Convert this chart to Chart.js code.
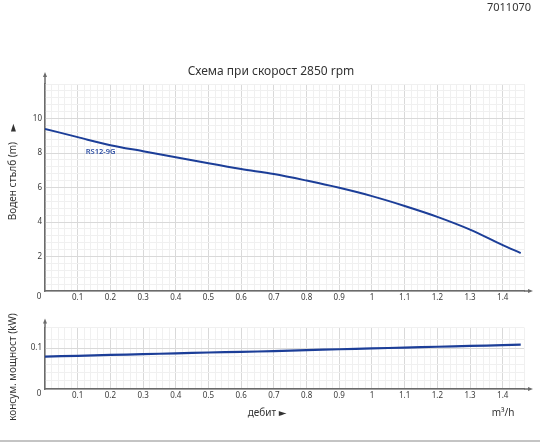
<!DOCTYPE html>
<html lang="bg">
<head>
<meta charset="utf-8">
<script src="https://cdn.jsdelivr.net/npm/chart.js@4.4.1/dist/chart.umd.min.js"></script>
<style>
  html, body { margin: 0; padding: 0; background: #fff; }
  #wrap { position: relative; width: 540px; height: 443px; overflow: hidden; }
  #headCanvasBox { position: absolute; left: 0; top: 0; width: 540px; height: 305px; }
  #powerCanvasBox { position: absolute; left: 0; top: 305px; width: 540px; height: 136px; }
  #rule { position: absolute; left: 0; top: 440px; width: 540px; height: 2px; background: #c4c4c4; }
</style>
</head>
<body>
<div id="wrap">
  <div id="headCanvasBox"><canvas id="chart-head"></canvas></div>
  <div id="powerCanvasBox"><canvas id="chart-power"></canvas></div>
  <div id="rule"></div>
</div>
<script>
'use strict';

/* ── Data ─────────────────────────────────────────────────── */
const flowValues  = [0, 0.1, 0.2, 0.3, 0.4, 0.5, 0.6, 0.7, 0.8, 0.9, 1.0, 1.1, 1.2, 1.3, 1.4, 1.455];
const headValues  = [9.4, 8.92, 8.45, 8.1, 7.75, 7.4, 7.07, 6.78, 6.4, 5.98, 5.5, 4.93, 4.3, 3.56, 2.66, 2.2];
const powerValues = [0.079, 0.081, 0.083, 0.085, 0.087, 0.089, 0.0905, 0.0925, 0.095, 0.097, 0.099, 0.101, 0.103, 0.105, 0.107, 0.108];
const headTicks   = [2, 4, 6, 8, 10];
const powerTicks  = [0.1];
const flowTicks   = [0.1, 0.2, 0.3, 0.4, 0.5, 0.6, 0.7, 0.8, 0.9, 1, 1.1, 1.2, 1.3, 1.4];

const seriesName  = 'RS12-9G';
const chartTitle  = 'Схема при скорост 2850 rpm';
const headTitle   = 'Воден стълб (m)';
const powerTitle  = 'консум. мощност (kW)';
const flowTitle   = 'дебит ►';
const flowUnit    = 'm³/h';
const codeLabel   = '7011070';

const FONT = '"Noto Sans", "DejaVu Sans", sans-serif';
const LINE_BLUE = '#1c3e98';
const AXIS = '#6b6b6b';
const TEXT = '#3a3a3a';
const X_MAX = 1.465;

/* ── Helpers ──────────────────────────────────────────────── */
const points = ys => flowValues.map((x, i) => ({ x, y: ys[i] }));
const fmt = v => String(Math.round(v * 100) / 100);

function fixWidth(w)  { return s => { s.width = w; }; }
function fixHeight(h) { return s => { s.height = h; }; }

function xScales(height) {
  return {
    xMinor: {
      type: 'linear', min: 0, max: X_MAX, position: 'bottom', z: -2,
      ticks: { display: false, stepSize: 0.02 },
      grid: { color: '#f0f0f0', lineWidth: 1, drawTicks: false },
      border: { display: false },
      afterFit: fixHeight(0)
    },
    x: {
      type: 'linear', min: 0, max: X_MAX, position: 'bottom', z: -1,
      afterBuildTicks: s => { s.ticks = [0].concat(flowTicks).map(v => ({ value: v })); },
      ticks: {
        padding: 2, maxRotation: 0, autoSkip: false,
        color: TEXT, font: { family: FONT, size: 8 },
        callback: v => (v === 0 ? '' : fmt(v))
      },
      grid: { color: '#d9d9d9', lineWidth: 1, drawTicks: false },
      border: { display: true, color: AXIS, width: 1.5 },
      afterFit: fixHeight(height)
    }
  };
}

function yScales(max, minorStep, ticks) {
  return {
    yMinor: {
      type: 'linear', min: 0, max: max, position: 'left', z: -2,
      ticks: { display: false, stepSize: minorStep },
      grid: { color: '#f0f0f0', lineWidth: 1, drawTicks: false },
      border: { display: false },
      afterFit: fixWidth(0)
    },
    y: {
      type: 'linear', min: 0, max: max, position: 'left', z: -1,
      afterBuildTicks: s => { s.ticks = [0].concat(ticks).map(v => ({ value: v })); },
      ticks: {
        padding: 3, color: TEXT, font: { family: FONT, size: 8 },
        callback: v => (v === 0 ? '' : fmt(v))
      },
      grid: { color: '#d9d9d9', lineWidth: 1, drawTicks: false },
      border: { display: true, color: AXIS, width: 1.5 },
      afterFit: fixWidth(45)
    }
  };
}

/* ── Extras: axis arrows, corner zero, free text ──────────── */
const extrasPlugin = {
  id: 'extras',
  afterDraw(chart, args, opts) {
    const { ctx, chartArea: a, scales } = chart;
    ctx.save();
    ctx.strokeStyle = AXIS;
    ctx.fillStyle = AXIS;
    ctx.lineWidth = 1.5;
    // y axis arrow
    ctx.beginPath();
    ctx.moveTo(a.left, a.top);
    ctx.lineTo(a.left, a.top - opts.yArrow);
    ctx.stroke();
    ctx.beginPath();
    ctx.moveTo(a.left, a.top - opts.yArrow - 4);
    ctx.lineTo(a.left - 2, a.top - opts.yArrow + 1);
    ctx.lineTo(a.left + 2, a.top - opts.yArrow + 1);
    ctx.closePath();
    ctx.fill();
    // x axis arrow
    ctx.beginPath();
    ctx.moveTo(a.right, a.bottom);
    ctx.lineTo(a.right + 5, a.bottom);
    ctx.stroke();
    ctx.beginPath();
    ctx.moveTo(a.right + 9, a.bottom);
    ctx.lineTo(a.right + 4, a.bottom - 2);
    ctx.lineTo(a.right + 4, a.bottom + 2);
    ctx.closePath();
    ctx.fill();

    // shared "0" at the corner
    ctx.fillStyle = TEXT;
    ctx.font = '8px ' + FONT;
    ctx.textAlign = 'center';
    ctx.textBaseline = 'middle';
    ctx.fillText('0', scales.x.getPixelForValue(0) - 6, a.bottom + opts.zeroDy);

    (opts.texts || []).forEach(t => {
      ctx.save();
      ctx.fillStyle = t.color || TEXT;
      ctx.font = (t.weight || '400') + ' ' + t.size + 'px ' + FONT;
      ctx.textAlign = t.align || 'center';
      ctx.textBaseline = 'middle';
      const px = t.atValue ? scales.x.getPixelForValue(t.atValue[0]) : t.x;
      const py = t.atValue ? scales.y.getPixelForValue(t.atValue[1]) : t.y;
      ctx.translate(px, py);
      if (t.rotate) ctx.rotate(t.rotate);
      ctx.fillText(t.text, 0, 0);
      ctx.restore();
    });
    ctx.restore();
  }
};

/* ── Head chart ───────────────────────────────────────────── */
function renderHeadChart() {
  const ctx = document.getElementById('chart-head');
  new Chart(ctx, {
    type: 'line',
    data: {
      datasets: [{
        label: seriesName,
        data: points(headValues),
        borderColor: LINE_BLUE,
        borderWidth: 2,
        pointRadius: 0,
        fill: false,
        cubicInterpolationMode: 'monotone'
      }]
    },
    options: {
      responsive: true, maintainAspectRatio: false, animation: false,
      layout: { autoPadding: false, padding: { top: 84, right: 16, left: 0, bottom: 0 } },
      plugins: {
        legend: { display: false },
        tooltip: { enabled: false },
        extras: {
          yArrow: 8, zeroDy: 6,
          texts: [
            { text: codeLabel, x: 509, y: 8, size: 11, color: '#333' },
            { text: chartTitle, x: 271, y: 72, size: 12, color: '#333' },
            { text: headTitle + '    ►', x: 13, y: 172, size: 10, rotate: -Math.PI / 2, color: '#333' },
            { text: seriesName, atValue: [0.17, 8.05], size: 7.5, weight: '600', color: '#2d4ea3' }
          ]
        }
      },
      scales: Object.assign({}, xScales(14), yScales(12, 0.4, headTicks))
    },
    plugins: [extrasPlugin]
  });
}

/* ── Power chart ──────────────────────────────────────────── */
function renderPowerChart() {
  const ctx = document.getElementById('chart-power');
  new Chart(ctx, {
    type: 'line',
    data: {
      datasets: [{
        label: seriesName,
        data: points(powerValues),
        borderColor: LINE_BLUE,
        borderWidth: 2.2,
        pointRadius: 0,
        fill: false,
        tension: 0.3
      }]
    },
    options: {
      responsive: true, maintainAspectRatio: false, animation: false,
      layout: { autoPadding: false, padding: { top: 22.5, right: 16, left: 0, bottom: 38 } },
      plugins: {
        legend: { display: false },
        tooltip: { enabled: false },
        extras: {
          yArrow: 5, zeroDy: 5,
          texts: [
            { text: powerTitle, x: 13, y: 62, size: 10, rotate: -Math.PI / 2, color: '#333' },
            { text: flowTitle, x: 267, y: 108, size: 10, color: '#333' },
            { text: flowUnit, x: 503, y: 108, size: 10, color: '#333' }
          ]
        }
      },
      scales: Object.assign({}, xScales(14), yScales(0.15, 0.02, powerTicks))
    },
    plugins: [extrasPlugin]
  });
}

document.addEventListener('DOMContentLoaded', () => {
  renderHeadChart();
  renderPowerChart();
});
</script>
</body>
</html>
